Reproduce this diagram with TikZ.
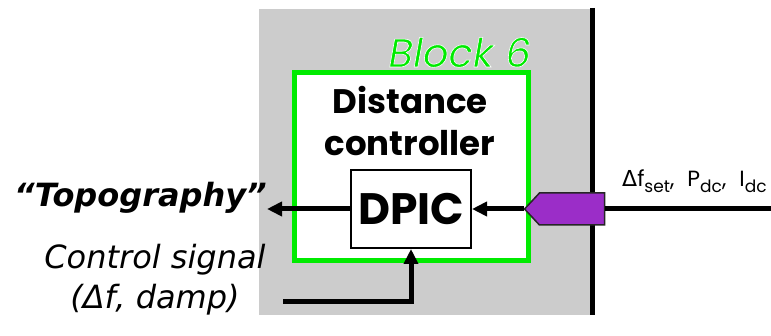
\documentclass[tikz,border=0pt]{standalone}
\usepackage{fontspec}
\setsansfont{DejaVu Sans}
\newfontfamily\gothic{Poppins}
\usetikzlibrary{arrows.meta,shapes.symbols}
\definecolor{blockgreen}{RGB}{0,235,0}
\definecolor{panelgray}{RGB}{204,204,204}
\definecolor{feedpurple}{RGB}{155,45,200}
% white outline round the green block tag
\newcommand\haloed[1]{\special{pdf:literal direct 2 Tr 0.6 w 1 1 1 RG}#1\special{pdf:literal direct 0 Tr}}
\newcommand\bussub[1]{\raisebox{-6pt}{\fontsize{17}{17}\selectfont #1}}
\tikzset{
  blockframe/.style={draw=blockgreen, line width=5pt, fill=white, minimum width=234pt, minimum height=188pt, inner sep=0pt},
  blocktitle/.style={align=center, inner sep=0pt, font=\gothic\bfseries\fontsize{34}{42}\selectfont},
  blocktag/.style={inner sep=0pt, text=blockgreen, font=\gothic\itshape\fontsize{40}{40}\selectfont},
  dpicbox/.style={draw, line width=2pt, fill=white, minimum width=120pt, minimum height=78pt, inner sep=0pt, font=\gothic\bfseries\fontsize{44}{44}\selectfont},
  feedbox/.style={signal, signal to=west, signal pointer angle=94, fill=feedpurple, draw=black!85, line width=1.5pt, minimum width=80pt, minimum height=32pt, inner sep=0pt},
  sidelabel/.style={inner sep=0pt, align=center, font=\sffamily\itshape\fontsize{32}{40}\selectfont},
  buslabel/.style={inner sep=0pt, font=\gothic\fontsize{22}{22}\selectfont},
  flow/.style={-{Triangle[length=15pt, width=14pt]}, line width=5pt},
  wire/.style={line width=5pt},
}
\begin{document}
\begin{tikzpicture}[x=1pt, y=-1pt]
    \useasboundingbox (0,0) rectangle (771,336);
    % panel and boundary
    \fill[panelgray] (259,9) rectangle (590,315);
    \draw[wire] (592,8) -- (592,315);
    \node[blockframe] (block) at (411,167) {};
    \node[blocktitle] (title) at (410,121) {Distance\\controller};
    \node[blocktag, anchor=base east] (tag) at (531,67) {\haloed{Block 6}};
    \node[dpicbox] (dpic) at (411,209) {DPIC};
    \node[feedbox] (feed) at (572,209) {};
    \node[sidelabel, font=\sffamily\bfseries\itshape\fontsize{32}{32}\selectfont, anchor=base east] (topo) at (267,207) {“Topography”};
    \node[sidelabel] (ctrl) at (155,280) {Control signal\\(Δf, damp)};
    \node[buslabel, anchor=base west] (bus) at (622,187) {{\sffamily Δ}f\bussub{set},\hspace{13pt}P\bussub{dc},\hspace{13pt}I\bussub{dc}};
    \coordinate (ctrlin) at (283,302);
    \coordinate (busend) at (780,209);
    \draw[flow] (dpic.west) -- (dpic.west -| topo.east);
    \draw[flow] (feed.west) -- (dpic.east);
    \draw[wire] (feed.east) -- (busend);
    \draw[flow] (ctrlin) -| (dpic.south);
  \end{tikzpicture}
\end{document}
